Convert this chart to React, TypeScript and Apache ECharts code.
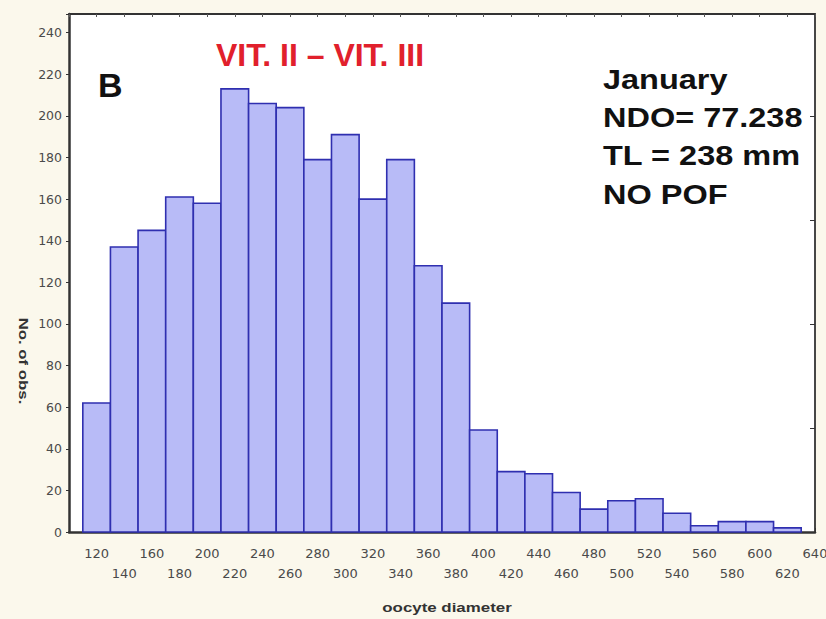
import React, { useEffect, useRef } from "react";
import * as echarts from "echarts";

// Bin centres (oocyte diameter, µm) and counts (No. of obs.)
const binCenters = [120, 140, 160, 180, 200, 220, 240, 260, 280, 300, 320, 340, 360, 380, 400, 420, 440, 460, 480, 500, 520, 540, 560, 580, 600, 620];
const counts = [62, 137, 145, 161, 158, 213, 206, 204, 179, 191, 160, 179, 128, 110, 49, 29, 28, 19, 11, 15, 16, 9, 3, 5, 5, 2];
const binWidth = 20;
const xMin = 100;
const xMax = 640;
const yMax = 249;
const title = "VIT. II \u2013 VIT. III";
const panelLetter = "B";
const infoLines = ["January", "NDO= 77.238", "TL = 238 mm", "NO POF"];
const xName = "oocyte diameter";
const yName = "No. of obs.";

export default function App() {
  const ref = useRef<HTMLDivElement>(null);
  useEffect(() => {
    document.body.style.margin = "0";
    if (!ref.current) return;
    const chart = echarts.init(ref.current, null, { renderer: "svg" });
    const data = binCenters.map((x, i) => [x, counts[i]]);
    const labelFont = "DejaVu Sans";
    const axisCol = "#333";
    chart.setOption({
      animation: false,
      backgroundColor: "#FBF8EC",
      grid: { left: 69, right: 11, top: 14, bottom: 87, show: true, backgroundColor: "#ffffff", borderWidth: 0, outerBoundsMode: "none", containLabel: false },
      xAxis: [
        {
          type: "value", min: xMin, max: xMax, interval: 20, position: "bottom",
          axisLine: { show: true, onZero: false, lineStyle: { color: axisCol, width: 2.5 } },
          axisTick: { show: true, inside: true, length: 4, lineStyle: { color: axisCol, width: 1 } },
          splitLine: { show: false },
          axisLabel: {
            show: true, hideOverlap: false, showMinLabel: true, showMaxLabel: true,
            margin: 11, color: "#4a4a4a", fontFamily: labelFont, fontSize: 13, lineHeight: 20,
            formatter: (v: number) => {
              if (v < binCenters[0]) return "";
              const k = Math.round((v - binCenters[0]) / binWidth);
              return k % 2 === 0 ? String(v) : "\n" + v;
            },
          },
        },
        {
          type: "value", min: xMin, max: xMax, interval: 20, position: "top",
          axisLine: { show: true, onZero: false, lineStyle: { color: axisCol, width: 1.8 } },
          axisTick: { show: true, inside: true, length: 3, lineStyle: { color: "#555", width: 1 } },
          splitLine: { show: false },
          axisLabel: { show: false },
        },
      ],
      yAxis: [
        {
          type: "value", min: 0, max: yMax, interval: 20, position: "left",
          axisLine: { show: true, onZero: false, lineStyle: { color: axisCol, width: 2.5 } },
          axisTick: { show: true, inside: false, length: 3, lineStyle: { color: axisCol, width: 1 } },
          splitLine: { show: false },
          axisLabel: {
            show: true, margin: 7, color: "#4a4a4a", fontFamily: labelFont, fontSize: 12.5,
            formatter: (v: number) => (v % 20 === 0 ? String(v) : ""),
          },
        },
        {
          type: "value", min: 0, max: yMax, interval: 50, position: "right",
          axisLine: { show: true, onZero: false, lineStyle: { color: axisCol, width: 1.8 } },
          axisTick: { show: true, inside: true, length: 5, lineStyle: { color: axisCol, width: 1 } },
          splitLine: { show: false },
          axisLabel: { show: false },
        },
      ],
      series: [
        {
          type: "custom",
          xAxisIndex: 0,
          yAxisIndex: 0,
          encode: { x: 0, y: 1 },
          data,
          renderItem: (params: any, api: any) => {
            const x = api.value(0);
            const y = api.value(1);
            const p0 = api.coord([x - binWidth / 2, y]);
            const p1 = api.coord([x + binWidth / 2, 0]);
            return {
              type: "rect",
              shape: { x: p0[0], y: p0[1], width: p1[0] - p0[0], height: p1[1] - p0[1] },
              style: { fill: "#B8BBF7", stroke: "#2F2FB0", lineWidth: 1.6 },
            };
          },
          z: 1,
        },
      ],
      graphic: [
        {
          type: "text", x: 98, y: 85, z: 10,
          style: { text: panelLetter, fill: "#111", font: "bold 34px 'Liberation Sans', Arial, sans-serif", textAlign: "left", textVerticalAlign: "middle" },
        },
        {
          type: "text", x: 216, y: 55, z: 10,
          style: { text: title, fill: "#E1202C", font: "bold 32px 'Liberation Sans', Arial, sans-serif", textAlign: "left", textVerticalAlign: "middle" },
        },
        ...infoLines.map((t, i) => ({
          type: "text", x: 603, y: 79 + i * 38.4, scaleX: 1.16, z: 10,
          style: { text: t, fill: "#111", font: "bold 28px 'Liberation Sans', Arial, sans-serif", textAlign: "left", textVerticalAlign: "middle" },
        })),
        {
          type: "text", x: 447, y: 607, scaleX: 1.3, z: 10,
          style: { text: xName, fill: "#333", font: "bold 13px 'Liberation Sans', Arial, sans-serif", textAlign: "center", textVerticalAlign: "middle" },
        },
        {
          type: "text", x: 23, y: 361, scaleX: 1.4, rotation: -Math.PI / 2, z: 10,
          style: { text: yName, fill: "#333", font: "bold 12px 'Liberation Sans', Arial, sans-serif", textAlign: "center", textVerticalAlign: "middle" },
        },
      ],
    });
    return () => chart.dispose();
  }, []);
  return <div ref={ref} style={{ width: 826, height: 619 }} />;
}
